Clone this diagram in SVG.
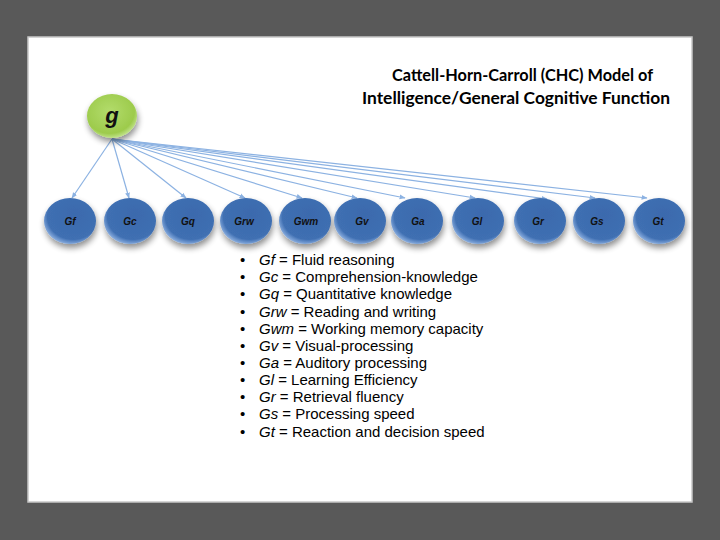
<svg xmlns="http://www.w3.org/2000/svg" width="720" height="540" viewBox="0 0 720 540">
<defs>
<style>
.bg{fill:#595959}
.frame{fill:#ffffff;stroke:#c8c8c8;stroke-width:1.5}
.title{font-family:Lato,"Open Sans","Liberation Sans",sans-serif;font-weight:bold;font-size:17px;fill:#000;text-anchor:middle}
.nlabel{font-family:"Liberation Sans",Arial,sans-serif;font-weight:bold;font-style:italic;font-size:10px;fill:#111;text-anchor:middle}
.glabel{font-family:"Liberation Sans",Arial,sans-serif;font-weight:bold;font-style:italic;font-size:22px;fill:#111;text-anchor:middle}
.list{font-family:"Liberation Sans",Arial,sans-serif;font-size:15px;fill:#000}
.conn{stroke:#8cb2e2;stroke-width:1.2;fill:none;marker-end:url(#arr)}
.bnode{fill:url(#blueGrad);filter:url(#shadow)}
.gnode{fill:url(#greenGrad);filter:url(#shadow)}
</style>
<radialGradient id="blueGrad" cx="55%" cy="42%" r="60%" fx="60%" fy="35%">
<stop offset="0" stop-color="#3b6aad"/>
<stop offset="0.82" stop-color="#3f6fb2"/>
<stop offset="1" stop-color="#8fb2e2"/>
</radialGradient>
<radialGradient id="greenGrad" cx="45%" cy="40%" r="62%">
<stop offset="0" stop-color="#b3dc6c"/>
<stop offset="0.8" stop-color="#9dcb4c"/>
<stop offset="1" stop-color="#c6e693"/>
</radialGradient>
<filter id="shadow" x="-40%" y="-40%" width="180%" height="190%">
<feGaussianBlur in="SourceAlpha" stdDeviation="3"/>
<feOffset dx="1" dy="4" result="b"/>
<feComponentTransfer><feFuncA type="linear" slope="0.45"/></feComponentTransfer>
<feMerge><feMergeNode/><feMergeNode in="SourceGraphic"/></feMerge>
</filter>
<marker id="arr" viewBox="0 0 10 10" refX="9" refY="5" markerWidth="6" markerHeight="6" orient="auto" markerUnits="userSpaceOnUse">
<path d="M0,1 L10,5 L0,9 z" fill="#8cb2e2"/>
</marker>
</defs>
<rect class="bg" x="0" y="0" width="720" height="540"/>
<rect class="frame" x="28" y="37" width="664" height="465"/>
<g id="title">
<text class="title" x="522.5" y="81" textLength="261" lengthAdjust="spacingAndGlyphs">Cattell-Horn-Carroll (CHC) Model of</text>
<text class="title" x="516" y="104" textLength="308" lengthAdjust="spacingAndGlyphs">Intelligence/General Cognitive Function</text>
</g>
<g id="connectors">
<line class="conn" x1="112" y1="139" x2="72" y2="198"/>
<line class="conn" x1="112" y1="139" x2="129" y2="198"/>
<line class="conn" x1="112" y1="139" x2="186" y2="198"/>
<line class="conn" x1="112" y1="139" x2="245" y2="198"/>
<line class="conn" x1="112" y1="139" x2="302" y2="198"/>
<line class="conn" x1="112" y1="139" x2="357" y2="198"/>
<line class="conn" x1="112" y1="139" x2="405" y2="198"/>
<line class="conn" x1="112" y1="139" x2="475" y2="198"/>
<line class="conn" x1="112" y1="139" x2="547" y2="199"/>
<line class="conn" x1="112" y1="139" x2="595" y2="198"/>
<line class="conn" x1="112" y1="139" x2="647" y2="198"/>
</g>
<g id="node-g"><ellipse class="gnode" cx="112" cy="116" rx="25" ry="22"/><text class="glabel" x="112" y="123">g</text></g>
<g id="node-Gf"><ellipse class="bnode" cx="70" cy="221" rx="26" ry="23"/><text class="nlabel" x="70" y="225">Gf</text></g>
<g id="node-Gc"><ellipse class="bnode" cx="130" cy="221" rx="26" ry="23"/><text class="nlabel" x="130" y="225">Gc</text></g>
<g id="node-Gq"><ellipse class="bnode" cx="188" cy="221" rx="26" ry="23"/><text class="nlabel" x="188" y="225">Gq</text></g>
<g id="node-Grw"><ellipse class="bnode" cx="246" cy="221" rx="26" ry="23"/><text class="nlabel" x="244" y="225">Grw</text></g>
<g id="node-Gwm"><ellipse class="bnode" cx="305" cy="221" rx="26" ry="23"/><text class="nlabel" x="306" y="225">Gwm</text></g>
<g id="node-Gv"><ellipse class="bnode" cx="360" cy="221" rx="26" ry="23"/><text class="nlabel" x="362" y="225">Gv</text></g>
<g id="node-Ga"><ellipse class="bnode" cx="417" cy="221" rx="26" ry="23"/><text class="nlabel" x="418" y="225">Ga</text></g>
<g id="node-Gl"><ellipse class="bnode" cx="478" cy="221" rx="26" ry="23"/><text class="nlabel" x="477" y="225">Gl</text></g>
<g id="node-Gr"><ellipse class="bnode" cx="540" cy="221" rx="26" ry="23"/><text class="nlabel" x="538" y="225">Gr</text></g>
<g id="node-Gs"><ellipse class="bnode" cx="599" cy="221" rx="26" ry="23"/><text class="nlabel" x="597" y="225">Gs</text></g>
<g id="node-Gt"><ellipse class="bnode" cx="659" cy="221" rx="26" ry="23"/><text class="nlabel" x="658" y="225">Gt</text></g>
<g id="legend" class="list">
<text x="240" y="265">•</text><text x="259" y="265"><tspan font-style="italic">Gf</tspan> = Fluid reasoning</text>
<text x="240" y="282.2">•</text><text x="259" y="282.2"><tspan font-style="italic">Gc</tspan> = Comprehension-knowledge</text>
<text x="240" y="299.3">•</text><text x="259" y="299.3"><tspan font-style="italic">Gq</tspan> = Quantitative knowledge</text>
<text x="240" y="316.5">•</text><text x="259" y="316.5"><tspan font-style="italic">Grw</tspan> = Reading and writing</text>
<text x="240" y="333.6">•</text><text x="259" y="333.6"><tspan font-style="italic">Gwm</tspan> = Working memory capacity</text>
<text x="240" y="350.8">•</text><text x="259" y="350.8"><tspan font-style="italic">Gv</tspan> = Visual-processing</text>
<text x="240" y="367.9">•</text><text x="259" y="367.9"><tspan font-style="italic">Ga</tspan> = Auditory processing</text>
<text x="240" y="385.1">•</text><text x="259" y="385.1"><tspan font-style="italic">Gl</tspan> = Learning Efficiency</text>
<text x="240" y="402.2">•</text><text x="259" y="402.2"><tspan font-style="italic">Gr</tspan> = Retrieval fluency</text>
<text x="240" y="419.4">•</text><text x="259" y="419.4"><tspan font-style="italic">Gs</tspan> = Processing speed</text>
<text x="240" y="436.5">•</text><text x="259" y="436.5"><tspan font-style="italic">Gt</tspan> = Reaction and decision speed</text>
</g>
</svg>
